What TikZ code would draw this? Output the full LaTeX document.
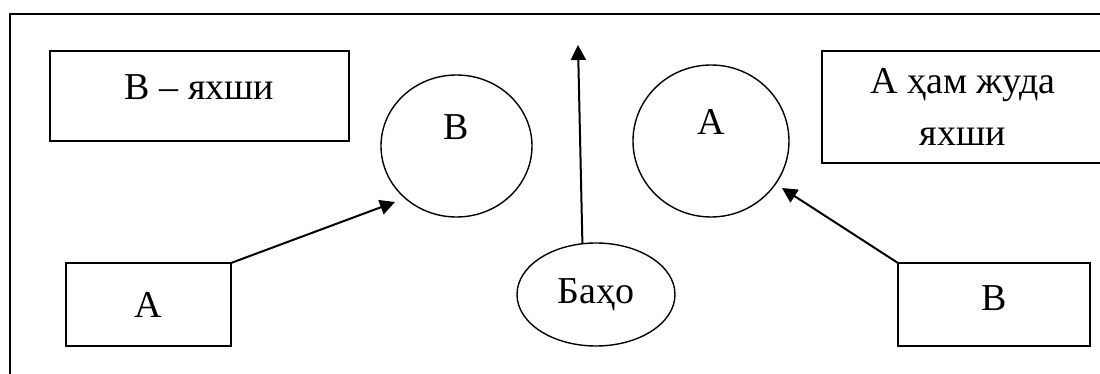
\documentclass[tikz,border=0pt]{standalone}
\usepackage{fontspec}
\setmainfont{Liberation Serif}
\usetikzlibrary{shapes.geometric,arrows.meta}
\begin{document}
\begin{tikzpicture}[x=0.5pt,y=-0.5pt,
  every node/.style={font=\fontsize{19}{26}\selectfont, inner sep=0pt, outer sep=0pt},
  boxnode/.style={draw, line width=0.7pt, rectangle},
  ovalnode/.style={draw, line width=0.7pt, ellipse},
  arrowline/.style={line width=1pt, -{Triangle[length=7.5pt,width=7.5pt]}}]
\useasboundingbox (0,0) rectangle (1100,374);
\clip (0,0) rectangle (1100,374);
\fill[white] (0,0) rectangle (1100,374);
% outer frame (right and bottom edges lie outside the picture)
\draw[line width=1pt] (10,380) -- (10,14) -- (1110,14);
% boxes
\node[boxnode, minimum width=149.5pt, minimum height=45pt,
  label={[yshift=4.5pt]center:В – яхши}] (bGood) at (199.5,96) {};
\node[boxnode, minimum width=141pt, minimum height=56pt, align=center] (bVery) at (963,107) {А ҳам жуда\\яхши};
\node[boxnode, minimum width=82.5pt, minimum height=41.5pt] (bA) at (148.5,304.5) {А};
\node[boxnode, minimum width=96pt, minimum height=41.5pt,
  label={[yshift=3pt]center:В}] (bB) at (994,304.5) {};
% circles
\node[ovalnode, minimum width=75.5pt, minimum height=71pt,
  label={[yshift=9.5pt]center:В}] (cB) at (456.5,146) {};
\node[ovalnode, minimum width=78pt, minimum height=76pt,
  label={[yshift=9.5pt]center:А}] (cA) at (711,141) {};
\node[ovalnode, minimum width=79pt, minimum height=51.5pt] (eBaho) at (596,294.5) {Баҳо};
% arrow targets
\coordinate (tB) at (395,202);
\coordinate (tA) at (782,188);
\coordinate (tUp) at (578,45);
% connectors
\draw[arrowline] (bA.north east) -- (tB);
\draw[arrowline] (bB.north west) -- (tA);
\draw[arrowline] (eBaho.105) -- (tUp);
\end{tikzpicture}
\end{document}
